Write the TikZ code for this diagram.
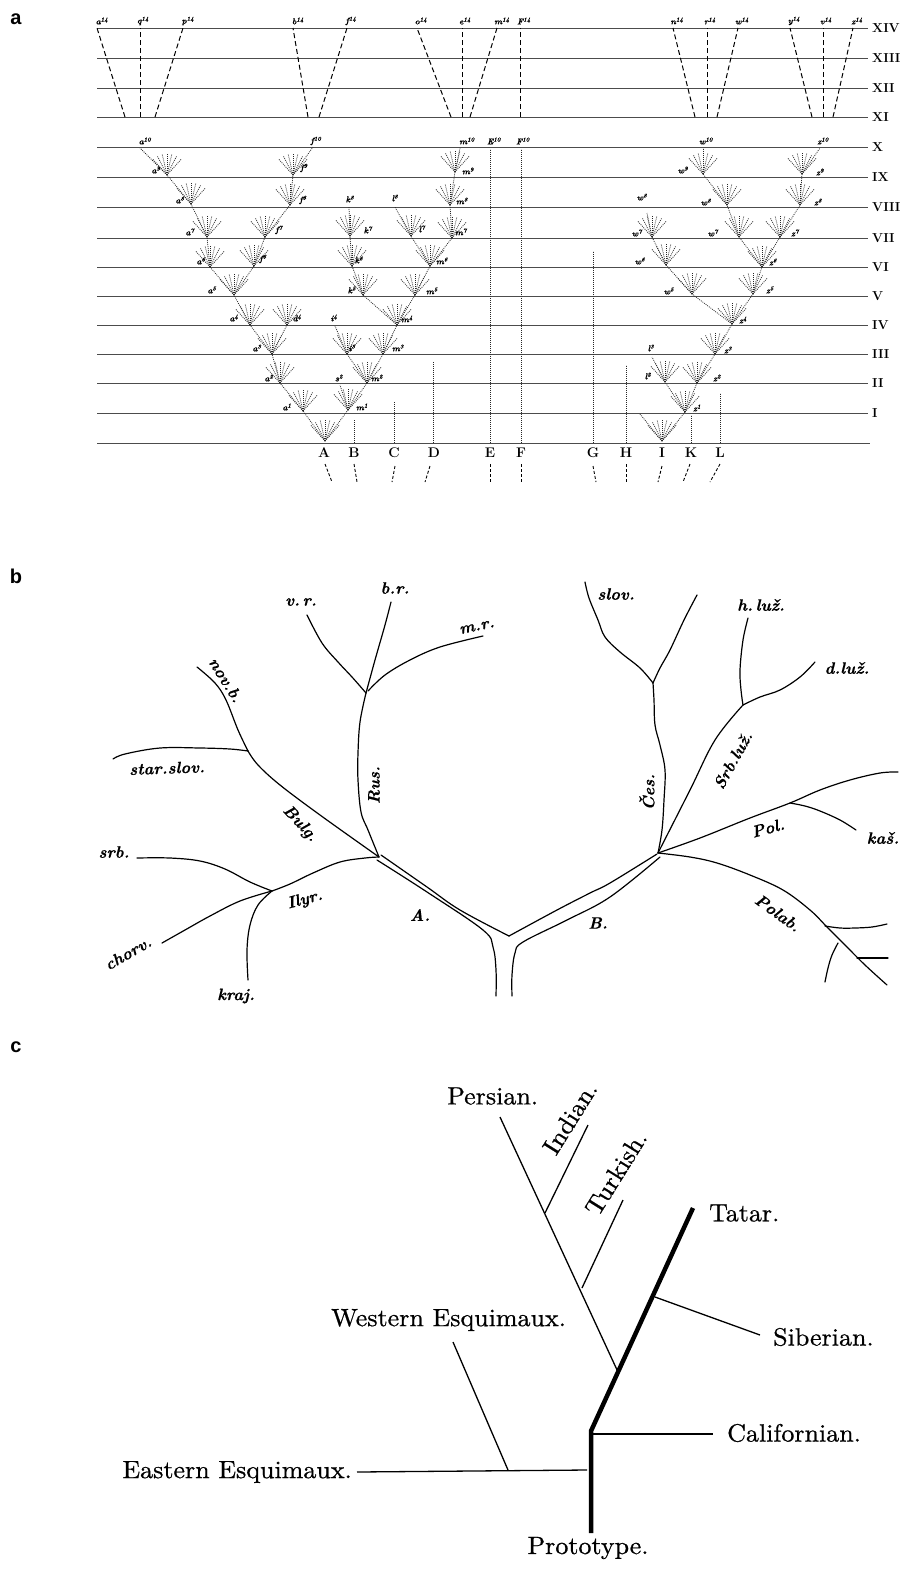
\documentclass[tikz,border=0pt]{standalone}
\usepackage{fontspec}
\newfontfamily\panelfont{Liberation Sans}
\newfontfamily\cfont[FakeStretch=1.04,FakeBold=0.7]{lmroman10-regular.otf}
\newfontfamily\bfont[FakeBold=0.6]{lmroman10-bolditalic.otf}
\newcommand\dfan[2][21]{\foreach \ang in {-132,-117,-103,-90,-77,-63,-48}{\draw[dotl] (#2) -- ++(\ang:#1);}}
\begin{document}
\begin{tikzpicture}[x=1pt,y=-1pt,
  lvl/.style={line width=0.8pt, black!70},
  dotl/.style={line width=0.75pt, dash pattern=on 0.9pt off 1.1pt, black!85},
  dashl/.style={line width=1pt, dash pattern=on 5pt off 3pt},
  stub/.style={line width=0.9pt, dash pattern=on 3pt off 2pt},
  lab/.style={font=\bfont\fontsize{8.5}{8.5}\selectfont, inner sep=0pt},
  roman/.style={font=\fontsize{13}{13}\selectfont\bfseries, inner sep=0pt, anchor=west},
  basel/.style={font=\fontsize{14}{14}\selectfont\bfseries, inner sep=0pt},
  panel/.style={font=\panelfont\bfseries\fontsize{20}{20}\selectfont, inner sep=0pt},
  br/.style={line width=1.2pt, line cap=round},
  blab/.style={font=\bfont\fontsize{16.5}{16.5}\selectfont, inner sep=0pt},
  clab/.style={font=\cfont\fontsize{25}{25}\selectfont, inner sep=0pt},
  cthin/.style={line width=1.3pt},
  cthick/.style={line width=4.5pt},
]
\useasboundingbox (0,0) rectangle (903,1569);
\fill[white] (0,0) rectangle (903,1569);

% ---------------- panel labels
\node[panel] (pa) at (16,19) {a};
\node[panel] (pb) at (16,576) {b};
\node[panel] (pc) at (16,1047) {c};

% ---------------- panel a: level lines
\foreach \yy/\lb in {28/XIV,58/XIII,88/XII,117/XI,147/X,177/IX,207/VIII,238/VII,267/VI,296/V,325/IV,354/III,383/II,413/I}{
  \draw[lvl] (97,\yy) -- (868,\yy);
  \node[roman] (r\lb) at (872,\yy) {\lb};
}
\draw[lvl] (97,443) -- (870,443);

% base letters
\foreach \xx/\l in {324/A,354/B,394/C,434/D,490/E,521/F,593/G,626/H,662/I,691/K,720/L}{
  \node[basel] (b\l) at (\xx,453) {\l};
}
% stubs below
\draw[stub] (325,464) -- (332,482);
\draw[stub] (354,464) -- (357,482);
\draw[stub] (395,466) -- (392,482);
\draw[stub] (430,466) -- (425,482);
\draw[stub] (490,464) -- (490,482);
\draw[stub] (521,464) -- (521,482);
\draw[stub] (593,466) -- (596,482);
\draw[stub] (626,464) -- (626,482);
\draw[stub] (662,466) -- (658,482);
\draw[stub] (690,464) -- (683,482);
\draw[stub] (720,464) -- (710,482);

% unchanged species
\draw[dotl] (354,443) -- (354,420);
\draw[dotl] (394,443) -- (394,402);
\draw[dotl] (433,443) -- (433,362);
\draw[dotl] (490,443) -- (490,149);
\draw[dotl] (521,443) -- (521,149);
\draw[dotl] (593,443) -- (593,251);
\draw[dotl] (626,443) -- (626,365);
\draw[dotl] (691,443) -- (691,415);
\draw[dotl] (720,443) -- (720,393);

% tree coordinates (left)
\coordinate (A0) at (325,441);
\coordinate (a1) at (303,411); \coordinate (m1) at (348,410);
\coordinate (a2) at (280,383); \coordinate (s2) at (340,385); \coordinate (m2) at (367,383);
\coordinate (a3) at (272,354); \coordinate (i3) at (347,354); \coordinate (m3) at (383,354);
\coordinate (a4) at (250,325); \coordinate (d4) at (287,325); \coordinate (i4) at (335,326); \coordinate (m4) at (397,325);
\coordinate (a5) at (234,295); \coordinate (k5) at (363,295); \coordinate (m5) at (415,295);
\coordinate (a6) at (210,267); \coordinate (f6) at (254,266); \coordinate (k6) at (352,266); \coordinate (m6) at (430,266);
\coordinate (a7) at (207,237); \coordinate (f7) at (265,237); \coordinate (k7) at (350,236); \coordinate (l7) at (411,236); \coordinate (m7) at (452,238);
\coordinate (a8) at (191,204); \coordinate (f8) at (290,205); \coordinate (k8) at (349,207); \coordinate (l8) at (395,207); \coordinate (m8) at (450,205);
\coordinate (a9) at (167,175); \coordinate (f9) at (293,175); \coordinate (m9) at (455,172);
\coordinate (a10) at (140,148); \coordinate (f10) at (313,147); \coordinate (m10) at (460,148);
% right
\coordinate (I0) at (662,441);
\coordinate (z1) at (685,412);
\coordinate (l2) at (665,382); \coordinate (z2) at (697,383);
\coordinate (l3) at (652,357); \coordinate (z3) at (715,354);
\coordinate (z4) at (732,324);
\coordinate (w5) at (692,294); \coordinate (z5) at (753,294);
\coordinate (w6) at (666,265); \coordinate (z6) at (762,267);
\coordinate (w7) at (652,237); \coordinate (w7b) at (739,237); \coordinate (z7) at (780,237);
\coordinate (w8b) at (727,205); \coordinate (z8) at (800,205);
\coordinate (w9) at (703,174); \coordinate (z9) at (802,174);
\coordinate (w10) at (703,148); \coordinate (z10) at (820,148);

% fans
\foreach \n in {A0,a1,m1,a2,m2,a3,i3,m3,a4,d4,m4,a5,k5,m5,a6,f6,k6,m6,a7,f7,k7,l7,m7,a8,f8,m8,a9,f9,m9,I0,z1,l2,z2,z3,z4,w5,z5,w6,z6,w7,w7b,z7,w8b,z8,w9,z9}{\dfan{\n}}
\draw[dotl] (I0) -- (640,414);
\draw[dotl] (w7) -- (647,213);

% links
\foreach \p/\c in {A0/a1,A0/m1,a1/a2,m1/s2,m1/m2,a2/a3,m2/i3,i3/i4,m2/m3,a3/a4,a3/d4,m3/m4,a4/a5,m4/k5,m4/m5,a5/a6,a5/f6,k5/k6,m5/m6,a6/a7,f6/f7,k6/k7,m6/l7,m6/m7,a7/a8,f7/f8,k7/k8,l7/l8,m7/m8,a8/a9,f8/f9,m8/m9,a9/a10,f9/f10,m9/m10,
  I0/z1,z1/l2,z1/z2,l2/l3,z2/z3,z3/z4,z4/w5,z4/z5,w5/w6,w6/w7,z5/z6,z6/w7b,z6/z7,w7b/w8b,w8b/w9,w9/w10,z7/z8,z8/z9,z9/z10}{
  \draw[dotl] (\p) -- (\c);
}

% node labels
\foreach \nm/\px/\py/\t/\s in {
 la1/287/407/a/1, lm1/362/407/m/1, la2/269/378/a/2, ls2/339/378/s/2, lm2/377/378/m/2,
 la3/257/348/a/3, li3/352/348/i/3, lm3/398/348/m/3, la4/234/318/a/4, ld4/297/318/d/4,
 li4/334/318/i/4, lm4/407/319/m/4, la5/212/290/a/5, lk5/352/290/k/5, lm5/432/291/m/5,
 la6/201/261/a/6, lf6/263/259/f/6, lk6/359/260/k/6, lm6/442/261/m/6, la7/190/232/a/7,
 lf7/279/230/f/7, lk7/368/230/k/7, ll7/422/229/l/7, lm7/461/232/m/7, la8/180/200/a/8,
 lf8/303/200/f/8, lk8/350/199/k/8, ll8/395/198/l/8, lm8/462/201/m/8, la9/156/170/a/9,
 lf9/304/168/f/9, lm9/468/171/m/9,
 lz1/697/408/z/1, ll2/648/376/l/2, lz2/717/378/z/2, ll3/651/348/l/3, lz3/728/350/z/3,
 lz4/743/320/z/4, lw5/669/291/w/5, lz5/770/290/z/5, lw6/640/261/w/6, lz6/773/262/z/6,
 lw7/637/233/w/7, lw7b/713/233/w/7, lz7/795/233/z/7, lw8/642/197/w/8, lw8b/706/202/w/8,
 lz8/818/202/z/8, lw9/683/170/w/9, lz9/820/172/z/9,
 la10/145/141/a/10, lf10/316/141/f/10, lm10/467/141/m/10, lE10/494/141/E/10, lF10/523/141/F/10,
 lw10/706/141/w/10, lz10/823/141/z/10,
 ta/102/21/a/14, tq/143/21/q/14, tp/188/21/p/14, tb/298/21/b/14, tf/351/21/f/14,
 to/421/21/o/14, te/465/21/e/14, tm/502/21/m/14, tF/524/21/F/14, tn/677/21/n/14,
 tr/710/21/r/14, tw/742/21/w/14, ty/794/21/y/14, tv/826/21/v/14, tz/857/21/z/14}{
  \node[lab] (\nm) at (\px,\py) {\t\textsuperscript{\s}};
}

% top dashed lines XI -> XIV
\draw[dashl] (125,117) -- (97,28);
\draw[dashl] (140,117) -- (140,28);
\draw[dashl] (155,117) -- (183,28);
\draw[dashl] (308,117) -- (293,28);
\draw[dashl] (319,117) -- (347,28);
\draw[dashl] (451,117) -- (417,28);
\draw[dashl] (462,117) -- (462,28);
\draw[dashl] (470,117) -- (497,28);
\draw[dashl] (520,117) -- (520,28);
\draw[dashl] (695,117) -- (673,28);
\draw[dashl] (707,117) -- (707,28);
\draw[dashl] (717,117) -- (738,28);
\draw[dashl] (812,117) -- (790,28);
\draw[dashl] (823,117) -- (823,28);
\draw[dashl] (833,117) -- (853,28);

% ---------------- panel b
\coordinate (JA) at (379,857);
\coordinate (JB) at (658,853);
\coordinate (Rn) at (366,693);
\coordinate (Bn) at (248,751);
\coordinate (In) at (272,891);
\coordinate (Cn) at (653,683);
\coordinate (Sn) at (743,705);
\coordinate (Pn) at (790,803);

% trunks
\draw[br] plot[smooth, tension=0.6] coordinates {(377,860) (427,892) (483,930) (493,947) (496,970) (496,996)};
\draw[br] plot[smooth, tension=0.6] coordinates {(381,855) (427,887) (460,910) (509,936)};
\draw[br] plot[smooth, tension=0.6] coordinates {(509,936) (557,910) (590,893) (610,883) (657,854)};
\draw[br] plot[smooth, tension=0.6] coordinates {(660,857) (610,897) (567,920) (523,942) (515,953) (512,975) (512,996)};

% left branches
\draw[br] plot[smooth, tension=0.6] coordinates {(JA) (368,830) (361,812) (358,780) (358,753) (360,722) (Rn)};
\draw[br] plot[smooth, tension=0.6] coordinates {(Rn) (352,677) (338,662) (322,643) (307,615)};
\draw[br] plot[smooth, tension=0.6] coordinates {(Rn) (375,660) (385,625) (391,602)};
\draw[br] plot[smooth, tension=0.6] coordinates {(368,691) (385,675) (410,660) (440,647) (483,636)};
\draw[br] plot[smooth, tension=0.6] coordinates {(JA) (320,815) (280,785) (258,765) (Bn)};
\draw[br] plot[smooth, tension=0.6] coordinates {(Bn) (230,749) (200,748) (160,748) (125,754) (113,759)};
\draw[br] plot[smooth, tension=0.6] coordinates {(Bn) (238,730) (226,700) (215,683) (197,667)};
\draw[br] plot[smooth, tension=0.6] coordinates {(JA) (365,858) (340,862) (313,873) (290,884) (In)};
\draw[br] plot[smooth, tension=0.6] coordinates {(In) (250,882) (225,869) (200,861) (170,858) (137,858)};
\draw[br] plot[smooth, tension=0.6] coordinates {(In) (240,901) (210,916) (185,930) (162,943)};
\draw[br] plot[smooth, tension=0.6] coordinates {(In) (258,905) (250,925) (247,950) (248,980)};

% right branches
\draw[br] plot[smooth, tension=0.6] coordinates {(JB) (662,830) (664,800) (665,770) (660,745) (655,725) (654,700) (Cn)};
\draw[br] plot[smooth, tension=0.6] coordinates {(Cn) (640,668) (620,652) (605,637) (598,620) (589,598) (585,582)};
\draw[br] plot[smooth, tension=0.6] coordinates {(Cn) (660,668) (670,650) (684,620) (697,595)};
\draw[br] plot[smooth, tension=0.6] coordinates {(JB) (690,790) (715,740) (Sn)};
\draw[br] plot[smooth, tension=0.6] coordinates {(Sn) (741,690) (740,670) (743,640) (748,618)};
\draw[br] plot[smooth, tension=0.6] coordinates {(Sn) (760,697) (780,690) (800,677) (815,662)};
\draw[br] plot[smooth, tension=0.6] coordinates {(JB) (700,838) (750,818) (Pn) (820,790) (850,780) (880,773) (898,772)};
\draw[br] plot[smooth, tension=0.6] coordinates {(Pn) (805,806) (820,811) (840,820) (856,830)};
\draw[br] plot[smooth, tension=0.6] coordinates {(JB) (690,857) (717,863) (750,875) (783,890) (810,910) (827,927) (845,945) (865,965) (887,985)};
\draw[br] plot[smooth, tension=0.6] coordinates {(825,926) (840,928) (855,928) (872,927) (887,924)};
\draw[br] plot[smooth, tension=0.6] coordinates {(838,943) (832,955) (828,968) (825,982)};
\draw[br] plot[smooth, tension=0.6] coordinates {(857,958) (870,958) (888,958)};

% panel b labels
\node[blab] (Lvr) at (301,602) {v.\,r.};
\node[blab] (Lbr) at (395,588) {b.r.};
\node[blab, rotate=12] (Lmr) at (477,627) {m.r.};
\node[blab, rotate=-58] (Lnovb) at (226,680) {nov.b.};
\node[blab, rotate=2] (Lstar) at (167,768) {star.slov.};
\node[blab, rotate=-47] (Lbulg) at (300,824) {Bulg.};
\node[blab, rotate=90] (Lrus) at (374,785) {Rus.};
\node[blab] (Lsrb) at (114,852) {srb.};
\node[blab, rotate=15] (Lilyr) at (305,900) {Ilyr.};
\node[blab] (LA) at (420,915) {A.};
\node[blab, rotate=30] (Lchorv) at (128,953) {chorv.};
\node[blab] (Lkraj) at (236,996) {kraj.};
\node[blab] (Lslov) at (616,594) {slov.};
\node[blab] (Lhluz) at (761,605) {h.\,luž.};
\node[blab] (Ldluz) at (847,668) {d.luž.};
\node[blab, rotate=61] (Lsrbluz) at (733,760) {Srb.luž.};
\node[blab, rotate=90] (Lces) at (647,792) {Čes.};
\node[blab, rotate=15] (Lpol) at (768,828) {Pol.};
\node[blab] (Lkas) at (883,838) {kaš.};
\node[blab] (LB) at (598,923) {B.};
\node[blab, rotate=-36] (Lpolab) at (778,913) {Polab.};

% ---------------- panel c
\coordinate (Proot) at (591,1533);
\coordinate (Pcor) at (591,1431);
\coordinate (Ptat) at (693,1208);
\coordinate (Psib) at (655,1297);
\coordinate (Pper) at (618,1372);
\coordinate (Pcal) at (593,1434);
\coordinate (Peast) at (587,1470);
\coordinate (Pind) at (545,1213);
\coordinate (Ptur) at (582,1288);
\coordinate (Pwest) at (508,1470);

\node[clab, anchor=west] (Ctatar) at (709,1213) {Tatar.};
\node[clab, anchor=west] (Csib) at (773,1337) {Siberian.};
\node[clab, anchor=west] (Ccal) at (727,1433) {Californian.};
\node[clab, anchor=west] (Cpers) at (447,1096) {Persian.};
\node[clab, anchor=west] (Cwest) at (331,1320) {Western Esquimaux.};
\node[clab, anchor=east] (Ceast) at (352,1472) {Eastern Esquimaux.};
\node[clab] (Cproto) at (588,1548) {Prototype.};
\node[clab, rotate=58] (Cind) at (570,1118) {Indian.};
\node[clab, rotate=58] (Ctur) at (616,1173) {Turkish.};

\draw[cthin] (Pcal) -- (713,1434);
\draw[cthin] (Psib) -- (760,1335);
\draw[cthin] (Pper) -- (500,1117);
\draw[cthin] (Pind) -- (588,1125);
\draw[cthin] (Ptur) -- (623,1200);
\draw[cthin] (453,1342) -- (Pwest);
\draw[cthin] (Ceast.east) ++(5,0) coordinate (Peastend) -- (Peast);
\draw[cthick, line join=miter] (Proot) -- (Pcor) -- (Ptat);
\end{tikzpicture}
\end{document}
